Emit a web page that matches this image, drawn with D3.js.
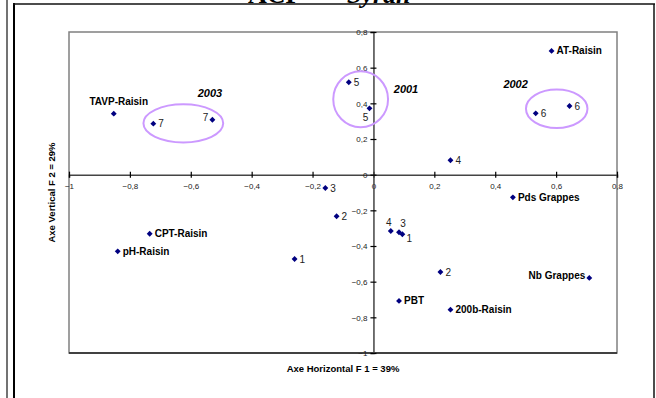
<!DOCTYPE html>
<meta charset="utf-8">
<style>
body { margin: 0; background: #fff; }
text { font-family: Arial, "Liberation Sans", sans-serif; }
.tick text { font-size: 8px; fill: #222; }
.lbl-var { font-size: 10px; font-weight: bold; fill: #000; }
.lbl-obs { font-size: 10px; fill: #222; }
.lbl-year { font-size: 11px; font-weight: bold; font-style: italic; fill: #000; }
.axtitle { font-size: 9.5px; font-weight: bold; fill: #000; }
</style>
<body>
<script src="https://d3js.org/d3.v7.min.js"></script>
<script>

// variables (bold labels)
var varNames = ["TAVP-Raisin", "AT-Raisin", "Pds Grappes", "Nb Grappes", "CPT-Raisin", "pH-Raisin", "PBT", "200b-Raisin"];
var varF1    = [-0.853, 0.585, 0.458, 0.709, -0.735, -0.840, 0.084, 0.253];
var varF2    = [0.342, 0.694, -0.127, -0.579, -0.331, -0.430, -0.708, -0.757];

// observations (numbered)
var obsNames = ["1", "1", "2", "2", "3", "3", "4", "4", "5", "5", "6", "6", "7", "7"];
var obsF1    = [-0.259, 0.095, -0.121, 0.220, -0.158, 0.084, 0.057, 0.253, -0.081, -0.013, 0.533, 0.644, -0.723, -0.529];
var obsF2    = [-0.473, -0.334, -0.233, -0.546, -0.075, -0.323, -0.316, 0.081, 0.518, 0.372, 0.344, 0.385, 0.286, 0.308];

// year groups (ellipse centre + radii in axis units, label position)
var years    = ["2001", "2002", "2003"];
var yearCx   = [-0.042, 0.602, -0.6245];
var yearCy   = [0.423, 0.370, 0.288];
var yearRx   = [0.090, 0.101, 0.131];
var yearRy   = [0.157, 0.108, 0.107];
var yearLx   = [0.107, 0.467, -0.537];
var yearLy   = [0.479, 0.507, 0.458];

var tickVals = [-1, -0.8, -0.6, -0.4, -0.2, 0, 0.2, 0.4, 0.6, 0.8];

// label placement
var varPos = ["t", "r", "r", "l", "r", "r", "r", "r"];
var obsPos = ["r", "br", "r", "r", "r", "tr", "tl", "r", "r", "bl", "r", "r", "r", "l"];
var offs = {
  r:  {dx: 5,  dy: 0,   a: "start"},
  l:  {dx: -4, dy: -2,  a: "end"},
  t:  {dx: 5,  dy: -12, a: "middle"},
  tl: {dx: -2, dy: -9,  a: "middle"},
  tr: {dx: 4,  dy: -9,  a: "middle"},
  br: {dx: 7,  dy: 4,   a: "middle"},
  bl: {dx: -4, dy: 9,   a: "middle"}
};

var W = 656, H = 398;
var plot = {left: 69, top: 32, right: 617, bottom: 353};

var x = d3.scaleLinear().domain([-1, 0.8]).range([plot.left, plot.right]);
var y = d3.scaleLinear().domain([-1, 0.8]).range([plot.bottom, plot.top]);

var fmt = function(d) { return d3.format("")(+d.toFixed(1)).replace(".", ","); };

var svg = d3.select("body").append("svg")
    .attr("width", W)
    .attr("height", H);

// outer frame lines
svg.append("line").attr("x1", 7).attr("x2", 7).attr("y1", 0).attr("y2", H)
    .attr("stroke", "#444").attr("stroke-width", 1.5);
svg.append("line").attr("x1", 14).attr("x2", 14).attr("y1", 3).attr("y2", H)
    .attr("stroke", "#000").attr("stroke-width", 2);
svg.append("line").attr("x1", 13).attr("x2", 655).attr("y1", 4).attr("y2", 4)
    .attr("stroke", "#111").attr("stroke-width", 1.5);
svg.append("line").attr("x1", 654).attr("x2", 654).attr("y1", 4).attr("y2", H)
    .attr("stroke", "#111").attr("stroke-width", 1.5);

// title (mostly cut off at the top, as in the original)
var title = svg.append("text")
    .attr("y", 3)
    .style("font-family", "'Liberation Serif', 'Times New Roman', serif")
    .style("font-size", "26px")
    .style("font-weight", "bold");
title.append("tspan").attr("x", 248).text("ACP – ");
title.append("tspan").attr("x", 347).style("font-style", "italic").text("Syrah");

// plot area border
svg.append("rect")
    .attr("x", plot.left).attr("y", plot.top)
    .attr("width", plot.right - plot.left).attr("height", plot.bottom - plot.top)
    .attr("fill", "none").attr("stroke", "#808080").attr("stroke-width", 1.5);
svg.append("line")
    .attr("x1", plot.left).attr("x2", plot.right)
    .attr("y1", plot.bottom).attr("y2", plot.bottom)
    .attr("stroke", "#222").attr("stroke-width", 1.5);

// X axis through y = 0
var gx = svg.append("g")
    .attr("transform", "translate(0," + y(0) + ")")
    .call(d3.axisBottom(x).tickValues(tickVals).tickFormat(fmt).tickSize(3).tickPadding(6));
gx.select(".domain").attr("stroke", "#444").attr("stroke-width", 1.5);
gx.selectAll(".tick line").attr("y1", -3).attr("stroke", "#000").attr("stroke-width", 1.2);

// Y axis through x = 0
var gy = svg.append("g")
    .attr("transform", "translate(" + x(0) + ",0)")
    .call(d3.axisLeft(y).tickValues(tickVals).tickFormat(fmt).tickSize(3).tickPadding(3));
gy.select(".domain").attr("stroke", "#444").attr("stroke-width", 1.5);
gy.selectAll(".tick line").attr("x1", 3).attr("stroke", "#000").attr("stroke-width", 1.2);
gy.selectAll(".tick text").attr("dy", "0.35em");

// axis titles
svg.append("text")
    .attr("class", "axtitle")
    .attr("x", (plot.left + plot.right) / 2)
    .attr("y", 372)
    .attr("text-anchor", "middle")
    .text("Axe Horizontal F 1 = 39%");
svg.append("text")
    .attr("class", "axtitle")
    .attr("transform", "translate(55," + (plot.top + plot.bottom) / 2 + ") rotate(-90)")
    .attr("text-anchor", "middle")
    .text("Axe Vertical F 2 = 29%");

// year ellipses
years.forEach(function(yr, i) {
  svg.append("ellipse")
      .attr("cx", x(yearCx[i])).attr("cy", y(yearCy[i]))
      .attr("rx", x(yearRx[i]) - x(0)).attr("ry", y(0) - y(yearRy[i]))
      .attr("fill", "none").attr("stroke", "#cc99ff").attr("stroke-width", 2);
  svg.append("text")
      .attr("class", "lbl-year")
      .attr("x", x(yearLx[i])).attr("y", y(yearLy[i]))
      .attr("dy", "0.35em")
      .attr("text-anchor", "middle")
      .text(yr);
});

var diamond = d3.symbol().type(d3.symbolDiamond2).size(22);

function drawPoints(names, xs, ys, pos, cls) {
  names.forEach(function(n, i) {
    var px = x(xs[i]), py = y(ys[i]), o = offs[pos[i]];
    svg.append("path")
        .attr("d", diamond)
        .attr("transform", "translate(" + px + "," + py + ")")
        .attr("fill", "#000080");
    svg.append("text")
        .attr("class", cls)
        .attr("x", px + o.dx).attr("y", py + o.dy)
        .attr("dy", "0.35em")
        .attr("text-anchor", o.a)
        .text(n);
  });
}

drawPoints(varNames, varF1, varF2, varPos, "lbl-var");
drawPoints(obsNames, obsF1, obsF2, obsPos, "lbl-obs");

</script>
</body>
